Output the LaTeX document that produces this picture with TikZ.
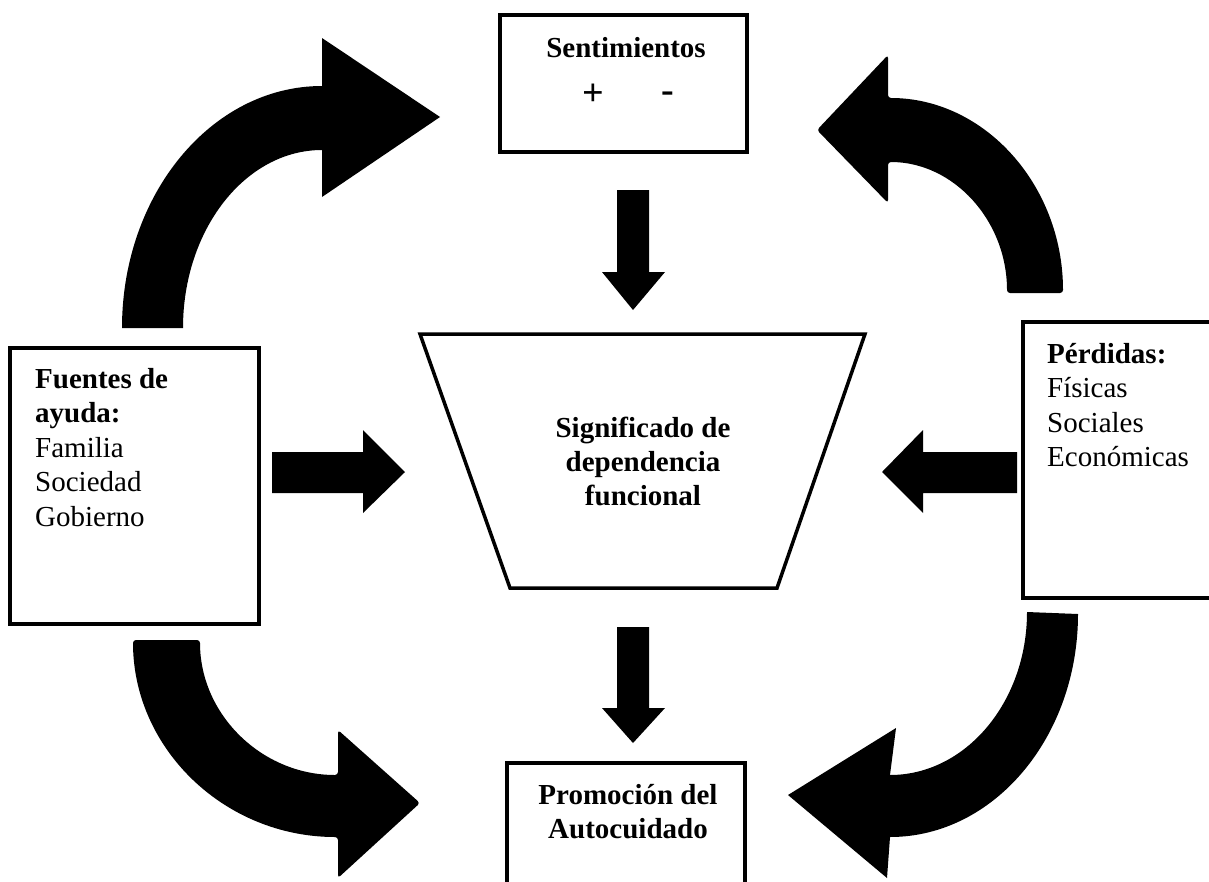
\documentclass[tikz,border=0pt]{standalone}
\usepackage{fontspec}
\setmainfont{Liberation Serif}
\begin{document}
\begin{tikzpicture}[x=1pt,y=-1pt,
  box/.style={draw=black, line width=3.5pt, fill=white, inner sep=0pt, outer sep=0pt},
  blk/.style={fill=black, draw=none},
  lbl/.style={font=\fontsize{29}{34.5}\selectfont, inner sep=0pt, align=left},
  ttl/.style={font=\fontsize{29}{34}\selectfont\bfseries, inner sep=0pt, align=center},
  sgn/.style={font=\fontsize{38}{40}\selectfont\bfseries, inner sep=0pt}]
\useasboundingbox (0,0) rectangle (1209,881);
\clip (0,0) rectangle (1209,881);

% boxes
\node[box, anchor=north west, minimum width=247pt, minimum height=137pt] (sent) at (500,15) {};
\node[box, anchor=north west, minimum width=249pt, minimum height=276pt] (fuentes) at (10,348) {};
\node[box, anchor=north west, minimum width=230pt, minimum height=276pt] (perdidas) at (1023,322) {};
\node[box, anchor=north west, minimum width=238pt, minimum height=150pt] (promo) at (507,763) {};

% trapezoid
\coordinate (tl) at (420,334);
\coordinate (tr) at (865,334);
\coordinate (br) at (777,588);
\coordinate (bl) at (510,588);
\draw[line width=3.5pt, line join=miter] (tl) -- (tr) -- (br) -- (bl) -- cycle;

% texts
\node[ttl, anchor=base] (sentT) at (626,57) {Sentimientos};
\node[sgn] (plus) at (593,95) {+};
\node[sgn] (minus) at (668,97) {-};
\node[lbl, anchor=north west] (fuT) at (35,368) {\textbf{Fuentes de}\\\textbf{ayuda:}\\Familia\\Sociedad\\Gobierno};
\node[lbl, anchor=north west] (peT) at (1047,343) {\textbf{Pérdidas:}\\Físicas\\Sociales\\Económicas};
\node[ttl] (sigT) at (643,461) {Significado de\\dependencia\\funcional};
\node[ttl] (proT) at (628,812) {Promoción del\\Autocuidado};

% straight block arrows
\fill[blk] (617,190) -- (649,190) -- (649,272) -- (665,272) -- (633,310) -- (602,272) -- (617,272) -- cycle;
\fill[blk] (617,627) -- (649,627) -- (649,708) -- (665,708) -- (633,743) -- (602,708) -- (617,708) -- cycle;
\fill[blk] (272,452) -- (363,452) -- (363,430) -- (405,472) -- (363,513) -- (363,493) -- (272,493) -- cycle;
\fill[blk] (1017,452) -- (923,452) -- (923,430) -- (882,472) -- (923,513) -- (923,493) -- (1017,493) -- cycle;

% curved arrows
% top-left
\fill[blk] (122,328) arc[start angle=180, end angle=270, x radius=200, y radius=242]
  -- (322,38) -- (440,117) -- (322,197) -- (322,150)
  arc[start angle=270, end angle=180, x radius=139, y radius=178] -- cycle;
% top-right
\fill[blk, rounded corners=3pt] (1063,293) arc[start angle=0, end angle=-90, x radius=175, y radius=195]
  -- (888,55) -- (817,130) -- (888,203) -- (888,162)
  arc[start angle=-90, end angle=0, x radius=119, y radius=131] -- cycle;
% bottom-left
\fill[blk, rounded corners=3pt] (133,640) arc[start angle=180, end angle=90, x radius=205, y radius=197]
  -- (338,878) -- (420,803) -- (338,730) -- (338,775)
  arc[start angle=90, end angle=180, x radius=138, y radius=135] -- cycle;
% bottom-right
\fill[blk] (1078,614) arc[start angle=0, end angle=90, x radius=188, y radius=223]
  -- (887,878) -- (788,795) -- (896,728) -- (890,775)
  arc[start angle=90, end angle=0, x radius=137, y radius=163] -- cycle;
\end{tikzpicture}
\end{document}
